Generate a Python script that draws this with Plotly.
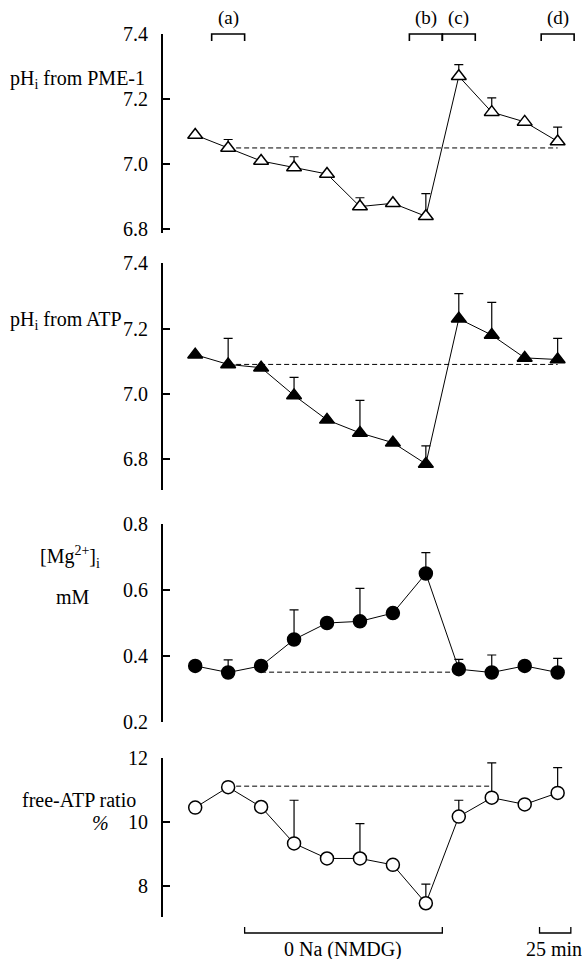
import plotly.graph_objects as go

# ---- data ----
t = list(range(12))
ph_pme = [7.09, 7.05, 7.01, 6.99, 6.97, 6.87, 6.88, 6.84, 7.27, 7.16, 7.13, 7.07]
ph_pme_err = [0, 0.026, 0, 0.033, 0, 0.027, 0, 0.07, 0.036, 0.044, 0, 0.044]
ph_pme_base = 7.05

ph_atp = [7.12, 7.09, 7.08, 6.995, 6.92, 6.88, 6.85, 6.785, 7.23, 7.18, 7.11, 7.105]
ph_atp_err = [0, 0.08, 0, 0.055, 0, 0.10, 0, 0.055, 0.077, 0.10, 0, 0.065]
ph_atp_base = 7.09

mg = [0.37, 0.35, 0.37, 0.45, 0.50, 0.505, 0.53, 0.65, 0.36, 0.35, 0.37, 0.35]
mg_err = [0, 0.038, 0, 0.09, 0, 0.10, 0, 0.063, 0.03, 0.053, 0, 0.043]
mg_base = 0.351

fatp = [10.44, 11.08, 10.46, 9.32, 8.85, 8.85, 8.65, 7.45, 10.16, 10.75, 10.54, 10.9]
fatp_err = [0, 0.15, 0, 1.35, 0, 1.09, 0, 0.6, 0.51, 1.09, 0, 0.79]
fatp_base = 11.11

bracket_centers = [1, 7, 8, 11]
bracket_labels = ["(a)", "(b)", "(c)", "(d)"]
na_period = [1.5, 7.5]
scale_bar = [10.45, 11.4]

FONT = "Liberation Serif"
W, H = 582, 959
L = 163  # y-axis line position (px)

def py(y):
    return 1 - y / H

def px(x):
    return (x - L) / (W - L)

panels = [
    dict(y=ph_pme, err=ph_pme_err, base=ph_pme_base, base_x=[1, 11],
         sym="triangle-up", fill="white", size=13,
         rng=[6.79, 7.4], dom=[py(232.6), py(34)],
         tv=[6.8, 7.0, 7.2, 7.4], tt=["6.8", "7.0", "7.2", "7.4"]),
    dict(y=ph_atp, err=ph_atp_err, base=ph_atp_base, base_x=[1, 11],
         sym="triangle-up", fill="black", size=13,
         rng=[6.705, 7.4], dom=[py(490), py(263.3)],
         tv=[6.8, 7.0, 7.2, 7.4], tt=["6.8", "7.0", "7.2", "7.4"]),
    dict(y=mg, err=mg_err, base=mg_base, base_x=[2, 8],
         sym="circle", fill="black", size=13,
         rng=[0.2, 0.8], dom=[py(722), py(524)],
         tv=[0.2, 0.4, 0.6, 0.8], tt=["0.2", "0.4", "0.6", "0.8"]),
    dict(y=fatp, err=fatp_err, base=fatp_base, base_x=[1, 9],
         sym="circle", fill="white", size=13,
         rng=[7.02, 12], dom=[py(917), py(757.7)],
         tv=[8, 10, 12], tt=["8", "10", "12"]),
]

fig = go.Figure()
layout = dict(template="none", width=W, height=H,
              margin=dict(l=L, r=0, t=0, b=0, pad=0, autoexpand=False),
              paper_bgcolor="white", plot_bgcolor="white", showlegend=False,
              font=dict(family=FONT, size=20, color="black"))

x0_px, dx_px = 195.2, 32.95
xr = [-(x0_px - L) / dx_px, (W - x0_px) / dx_px]
for i, p in enumerate(panels):
    n = i + 1
    xa = "x" if n == 1 else f"x{n}"
    ya = "y" if n == 1 else f"y{n}"
    fig.add_trace(go.Scatter(x=p["base_x"], y=[p["base"], p["base"]], mode="lines",
                             line=dict(color="black", width=1, dash="5px,3px"),
                             xaxis=xa, yaxis=ya, hoverinfo="skip"))
    fig.add_trace(go.Scatter(
        x=t, y=p["y"], mode="lines+markers", xaxis=xa, yaxis=ya,
        line=dict(color="black", width=1),
        marker=dict(symbol=p["sym"], size=p["size"], color=p["fill"],
                    line=dict(color="black", width=1.5)),
        error_y=dict(type="data", symmetric=False, array=p["err"],
                     arrayminus=[0] * 12, color="black", thickness=1.2, width=4.5),
    ))
    layout["xaxis" if n == 1 else f"xaxis{n}"] = dict(
        range=xr, visible=False, domain=[0, 1], anchor=ya, automargin=False)
    layout["yaxis" if n == 1 else f"yaxis{n}"] = dict(
        range=p["rng"], domain=p["dom"], anchor=xa, automargin=False,
        showline=True, linecolor="black", linewidth=1.8,
        showgrid=False, zeroline=False, ticks="inside", ticklen=7,
        tickwidth=1.8, tickcolor="black", tickvals=p["tv"], ticktext=p["tt"],
        tickfont=dict(family=FONT, size=20, color="black"), ticklabelstandoff=9)

fig.update_layout(**layout)

TXT = dict(family=FONT, size=20, color="black")
shapes = []
annotations = []
# top brackets
for c, lab in zip(bracket_centers, bracket_labels):
    a, b = c - 0.5, c + 0.5
    y0 = py(34)
    h = 7 / H
    shapes.append(dict(type="path", xref="x", yref="paper",
                       path=f"M {a},{y0 - h} L {a},{y0} L {b},{y0} L {b},{y0 - h}",
                       line=dict(color="black", width=1.6)))
    annotations.append(dict(x=c, y=py(18), xref="x", yref="paper", text=lab,
                            xanchor="center", yanchor="middle",
                            showarrow=False, font=dict(TXT, size=19)))
# bottom brackets
for (a, b) in [na_period, scale_bar]:
    y0 = py(933)
    h = 6 / H
    shapes.append(dict(type="path", xref="x4", yref="paper",
                       path=f"M {a},{y0 + h} L {a},{y0} L {b},{y0} L {b},{y0 + h}",
                       line=dict(color="black", width=1.3)))
annotations.append(dict(x=sum(na_period) / 2, y=py(949), xref="x4", yref="paper",
                        text="0 Na (NMDG)", showarrow=False,
                        xanchor="center", yanchor="middle", font=TXT))
annotations.append(dict(x=px(524), y=py(949), xref="paper", yref="paper",
                        text="25 min", showarrow=False, xanchor="left",
                        yanchor="middle", font=TXT))

# y labels
def lab(text, x_px, ypx, anchor="left"):
    annotations.append(dict(x=px(x_px), y=py(ypx), xref="paper", yref="paper",
                            text=text, showarrow=False, xanchor=anchor,
                            yanchor="middle", font=TXT))

lab("pH<sub>i</sub> from PME-1", 8, 79)
lab("pH<sub>i</sub> from ATP", 8, 320)
lab("[Mg<sup>2+</sup>]<sub>i</sub>", 70, 557, "center")
lab("mM", 73, 597, "center")
lab("free-ATP ratio", 20, 800)
lab("<i>%</i>", 100, 823, "center")

fig.update_layout(shapes=shapes, annotations=annotations)
fig.write_html("out.html")
